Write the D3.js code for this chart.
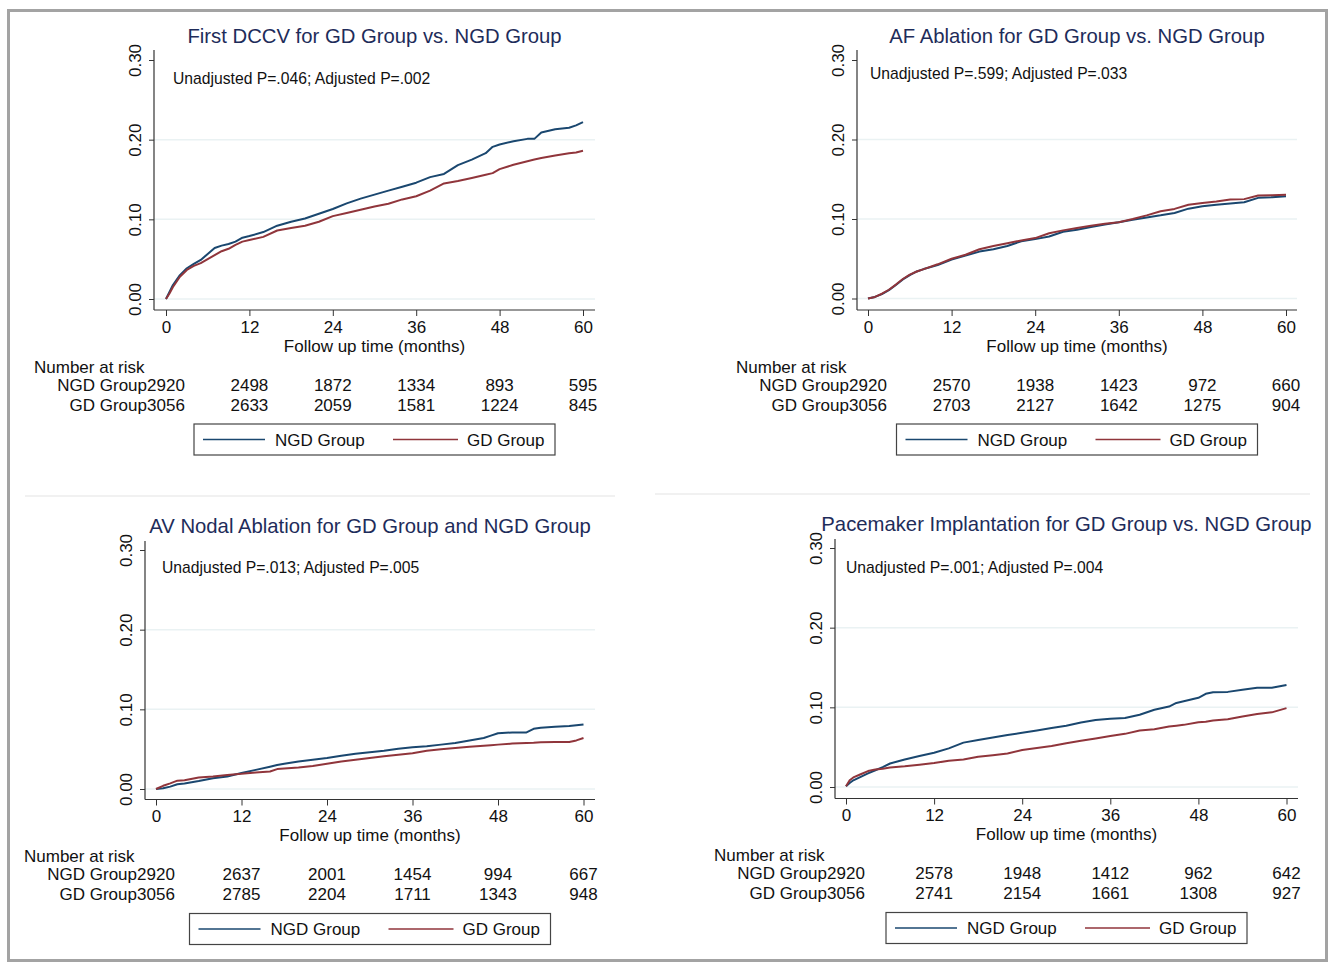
<!DOCTYPE html>
<html>
<head>
<meta charset="utf-8">
<script src="https://cdn.jsdelivr.net/npm/d3@7"></script>
<style>
  body { margin: 0; background: #fff; }
  text { font-family: "Liberation Sans", Arial, Helvetica, sans-serif; }
</style>
</head>
<body>
<div id="chart"></div>
<script>
"use strict";

//********************************* DATA *********************************
var titles = [
	"First DCCV for GD Group vs. NGD Group",
	"AF Ablation for GD Group vs. NGD Group",
	"AV Nodal Ablation for GD Group and NGD Group",
	"Pacemaker Implantation for GD Group vs. NGD Group"
];
var pValues = [
	"Unadjusted P=.046; Adjusted P=.002",
	"Unadjusted P=.599; Adjusted P=.033",
	"Unadjusted P=.013; Adjusted P=.005",
	"Unadjusted P=.001; Adjusted P=.004"
];
var seriesNames = ["NGD Group", "GD Group"];
var xTicks = [0, 12, 24, 36, 48, 60];
var yTicks = [0, 0.1, 0.2, 0.3];
var xTitle = "Follow up time (months)";

// panel 1 - First DCCV
var months1 = [0,0.5,1,2,3,4,5,6,7,8,9,10,11,12,14,16,18,20,22,24,26,28,30,32,34,36,38,40,42,44,46,47,48,50,52,53,54,56,58,59,60];
var ngd1 = [0,0.009,0.0176,0.030,0.0386,0.044,0.049,0.0566,0.064,0.067,0.069,0.072,0.077,0.079,0.084,0.092,0.097,0.101,0.107,0.113,0.120,0.126,0.131,0.136,0.141,0.146,0.153,0.157,0.168,0.175,0.183,0.191,0.194,0.198,0.201,0.201,0.209,0.213,0.215,0.218,0.222];
var gd1  = [0,0.007,0.015,0.028,0.0365,0.0415,0.045,0.050,0.055,0.060,0.063,0.068,0.072,0.074,0.078,0.086,0.089,0.092,0.097,0.104,0.108,0.112,0.116,0.1195,0.125,0.129,0.136,0.145,0.148,0.152,0.156,0.158,0.163,0.1685,0.173,0.175,0.177,0.180,0.183,0.184,0.186];

// panel 2 - AF Ablation
var months2 = [0,1,2,3,4,5,6,7,8,10,12,14,16,18,20,22,24,26,28,30,32,34,36,38,40,42,44,46,48,50,52,54,56,58,60];
var ngd2 = [0,0.002,0.0055,0.0105,0.017,0.024,0.0295,0.034,0.037,0.042,0.049,0.054,0.059,0.062,0.066,0.072,0.0747,0.078,0.084,0.0865,0.090,0.093,0.096,0.099,0.102,0.1046,0.1076,0.113,0.116,0.118,0.1195,0.121,0.1266,0.1274,0.1287];
var gd2  = [0,0.002,0.006,0.011,0.0175,0.0245,0.030,0.034,0.037,0.043,0.050,0.055,0.062,0.066,0.0696,0.073,0.076,0.082,0.0857,0.0886,0.0916,0.094,0.096,0.100,0.1046,0.1097,0.1127,0.118,0.120,0.122,0.1245,0.125,0.1295,0.130,0.1304];

// panel 3 - AV Nodal Ablation
var months3 = [0,1,2,3,4,6,8,10,12,14,16,17,18,20,22,24,26,28,30,32,34,36,38,40,42,44,46,47,48,50,52,53,54,56,58,59,60];
var ngd3 = [0,0.001,0.003,0.006,0.007,0.010,0.0135,0.0156,0.020,0.024,0.028,0.030,0.0316,0.0346,0.0367,0.0388,0.0418,0.0443,0.046,0.048,0.0506,0.0523,0.0536,0.0557,0.0578,0.061,0.064,0.067,0.070,0.071,0.071,0.0755,0.077,0.078,0.079,0.080,0.081];
var gd3  = [0,0.004,0.007,0.0105,0.011,0.0143,0.0156,0.0177,0.019,0.0207,0.022,0.025,0.0257,0.027,0.029,0.0316,0.0346,0.0367,0.0388,0.041,0.043,0.045,0.048,0.050,0.0515,0.053,0.0544,0.055,0.0557,0.057,0.0578,0.058,0.0586,0.059,0.059,0.061,0.064];

// panel 4 - Pacemaker Implantation
var months4 = [0,0.5,1,2,3,4,5,6,8,10,12,14,16,18,20,22,24,26,28,30,32,34,36,38,40,42,44,45,46,48,49,50,52,54,56,58,60];
var ngd4 = [0.001,0.005,0.0084,0.0127,0.017,0.021,0.025,0.0295,0.0346,0.039,0.043,0.0485,0.0557,0.059,0.062,0.0654,0.068,0.071,0.074,0.077,0.081,0.084,0.0857,0.0865,0.0907,0.097,0.101,0.1055,0.1076,0.112,0.117,0.119,0.1194,0.122,0.1245,0.1245,0.128];
var gd4  = [0.001,0.0084,0.012,0.016,0.020,0.022,0.023,0.0245,0.026,0.028,0.030,0.033,0.0346,0.038,0.040,0.042,0.0464,0.049,0.0515,0.055,0.058,0.061,0.064,0.0667,0.071,0.0726,0.076,0.077,0.078,0.0814,0.082,0.0835,0.085,0.0886,0.0916,0.0937,0.099];

// number at risk, at months 0,12,24,36,48,60
var riskNgd = [
	[2920, 2498, 1872, 1334, 893, 595],
	[2920, 2570, 1938, 1423, 972, 660],
	[2920, 2637, 2001, 1454, 994, 667],
	[2920, 2578, 1948, 1412, 962, 642]
];
var riskGd = [
	[3056, 2633, 2059, 1581, 1224, 845],
	[3056, 2703, 2127, 1642, 1275, 904],
	[3056, 2785, 2204, 1711, 1343, 948],
	[3056, 2741, 2154, 1661, 1308, 927]
];

var allMonths = [months1, months2, months3, months4];
var allNgd = [ngd1, ngd2, ngd3, ngd4];
var allGd = [gd1, gd2, gd3, gd4];

//********************************* LAYOUT *********************************
// pixel anchors of each panel (x of month 0 / 60, y of 0.00 / 0.30, axis lines)
var layout = [
	{x0: 166, x1: 583,   yAxisX: 154, xEnd: 595,  y0: 299,   y1: 60,  xAxisY: 310,   yTop: 50,  noteDx: 7, noteDy: 18},
	{x0: 868, x1: 1286,  yAxisX: 857, xEnd: 1297, y0: 298.5, y1: 60,  xAxisY: 310,   yTop: 50,  noteDx: 2, noteDy: 13},
	{x0: 156, x1: 583.5, yAxisX: 145, xEnd: 595,  y0: 789,   y1: 550, xAxisY: 799.5, yTop: 541, noteDx: 6, noteDy: 17},
	{x0: 846, x1: 1286.5,yAxisX: 835, xEnd: 1298, y0: 787,   y1: 548, xAxisY: 798.5, yTop: 539, noteDx: 0, noteDy: 19}
];

var colors = ["#1a476f", "#90353b"];
var W = 1329, H = 962;

var svg = d3.select("#chart").append("svg")
	.attr("width", W)
	.attr("height", H);

svg.append("rect").attr("width", W).attr("height", H).attr("fill", "white");

// outer frame
svg.append("rect")
	.attr("x", 8.5).attr("y", 10.5)
	.attr("width", 1318).attr("height", 950)
	.attr("fill", "none")
	.attr("stroke", "#a3a3a3")
	.attr("stroke-width", 3);

// faint separators between rows
svg.append("line").attr("x1", 25).attr("x2", 615).attr("y1", 496).attr("y2", 496)
	.attr("stroke", "#ececec").attr("stroke-width", 1.5);
svg.append("line").attr("x1", 655).attr("x2", 1310).attr("y1", 494).attr("y2", 494)
	.attr("stroke", "#ececec").attr("stroke-width", 1.5);

//********************************* DRAW ONE PANEL *********************************
function drawPanel(i){
	var L = layout[i];
	var g = svg.append("g");

	var x = d3.scaleLinear().domain([0, 60]).range([L.x0, L.x1]);
	var y = d3.scaleLinear().domain([0, 0.3]).range([L.y0, L.y1]);

	// gridlines (not at the top label)
	g.selectAll("line.grid")
		.data(yTicks.filter(function(d){ return d < 0.3; }))
		.enter().append("line")
		.attr("class", "grid")
		.attr("x1", L.yAxisX).attr("x2", L.xEnd)
		.attr("y1", function(d){ return y(d); })
		.attr("y2", function(d){ return y(d); })
		.attr("stroke", "#eaf2f3")
		.attr("stroke-width", 1.5);

	// y axis
	var yAxis = d3.axisLeft(y).tickValues(yTicks).tickSize(5).tickSizeOuter(0)
		.tickFormat(d3.format(".2f"));
	var ya = g.append("g").attr("transform", "translate(" + L.yAxisX + ",0)").call(yAxis);
	ya.select(".domain").remove();
	ya.selectAll(".tick line").attr("stroke", "#333");
	ya.selectAll(".tick text")
		.attr("x", null).attr("dy", null)
		.attr("text-anchor", "middle")
		.attr("dominant-baseline", "central")
		.attr("transform", "translate(-19,0) rotate(-90)")
		.attr("font-size", 17)
		.attr("fill", "#111")
		.attr("font-family", null);
	g.append("line")
		.attr("x1", L.yAxisX).attr("x2", L.yAxisX)
		.attr("y1", L.yTop).attr("y2", L.xAxisY)
		.attr("stroke", "#333").attr("stroke-width", 1.2);

	// x axis
	var xAxis = d3.axisBottom(x).tickValues(xTicks).tickSize(6).tickSizeOuter(0);
	var xa = g.append("g").attr("transform", "translate(0," + L.xAxisY + ")").call(xAxis);
	xa.select(".domain").remove();
	xa.selectAll(".tick line").attr("stroke", "#333");
	xa.selectAll(".tick text")
		.attr("y", 17).attr("dy", null)
		.attr("dominant-baseline", "central")
		.attr("font-size", 17)
		.attr("fill", "#111")
		.attr("font-family", null);
	g.append("line")
		.attr("x1", L.yAxisX).attr("x2", L.xEnd)
		.attr("y1", L.xAxisY).attr("y2", L.xAxisY)
		.attr("stroke", "#333").attr("stroke-width", 1.2);

	// x axis title
	var mid = (L.yAxisX + L.xEnd) / 2;
	g.append("text")
		.attr("x", mid).attr("y", L.xAxisY + 36)
		.attr("text-anchor", "middle").attr("dominant-baseline", "central")
		.attr("font-size", 17).attr("fill", "#111")
		.text(xTitle);

	// title
	g.append("text")
		.attr("x", mid).attr("y", L.y1 - 24)
		.attr("text-anchor", "middle").attr("dominant-baseline", "central")
		.attr("font-size", 20.3).attr("fill", "#1e2c5a")
		.text(titles[i]);

	// p-value note
	g.append("text")
		.attr("x", L.x0 + L.noteDx).attr("y", L.y1 + L.noteDy)
		.attr("dominant-baseline", "central")
		.attr("font-size", 15.7).attr("fill", "#111")
		.text(pValues[i]);

	// curves
	var line = d3.line()
		.x(function(d){ return x(d[0]); })
		.y(function(d){ return y(d[1]); });
	[allNgd[i], allGd[i]].forEach(function(vals, s){
		var pts = allMonths[i].map(function(m, k){ return [m, vals[k]]; });
		g.append("path")
			.datum(pts)
			.attr("d", line)
			.attr("fill", "none")
			.attr("stroke", colors[s])
			.attr("stroke-width", 2)
			.attr("stroke-linejoin", "round");
	});

	// number at risk table
	g.append("text")
		.attr("x", L.x0 - 132).attr("y", L.xAxisY + 57)
		.attr("dominant-baseline", "central")
		.attr("font-size", 17).attr("fill", "#111")
		.text("Number at risk");
	[riskNgd[i], riskGd[i]].forEach(function(row, s){
		var ry = L.xAxisY + 75 + s * 20;
		g.append("text")
			.attr("x", L.x0 - 19).attr("y", ry)
			.attr("text-anchor", "end").attr("dominant-baseline", "central")
			.attr("font-size", 17).attr("fill", "#111")
			.text(seriesNames[s]);
		g.selectAll("text.risk" + s)
			.data(row)
			.enter().append("text")
			.attr("class", "risk" + s)
			.attr("x", function(d, k){ return x(xTicks[k]); })
			.attr("y", ry)
			.attr("text-anchor", "middle").attr("dominant-baseline", "central")
			.attr("font-size", 17).attr("fill", "#111")
			.text(function(d){ return d; });
	});

	// legend, centred under the plot
	var ly = L.xAxisY + 114;
	var lg = g.append("g").attr("transform", "translate(" + (mid - 180.5) + "," + ly + ")");
	lg.append("rect")
		.attr("width", 361).attr("height", 31)
		.attr("fill", "white").attr("stroke", "#444").attr("stroke-width", 1.2);
	var legX = [[9, 71, 81], [199, 264, 273]];
	seriesNames.forEach(function(name, s){
		lg.append("line")
			.attr("x1", legX[s][0]).attr("x2", legX[s][1])
			.attr("y1", 15.5).attr("y2", 15.5)
			.attr("stroke", colors[s]).attr("stroke-width", 1.6);
		lg.append("text")
			.attr("x", legX[s][2]).attr("y", 16)
			.attr("dominant-baseline", "central")
			.attr("font-size", 17).attr("fill", "#111")
			.text(name);
	});
}

for(var p = 0; p < 4; ++p){
	drawPanel(p);
}
</script>
</body>
</html>
